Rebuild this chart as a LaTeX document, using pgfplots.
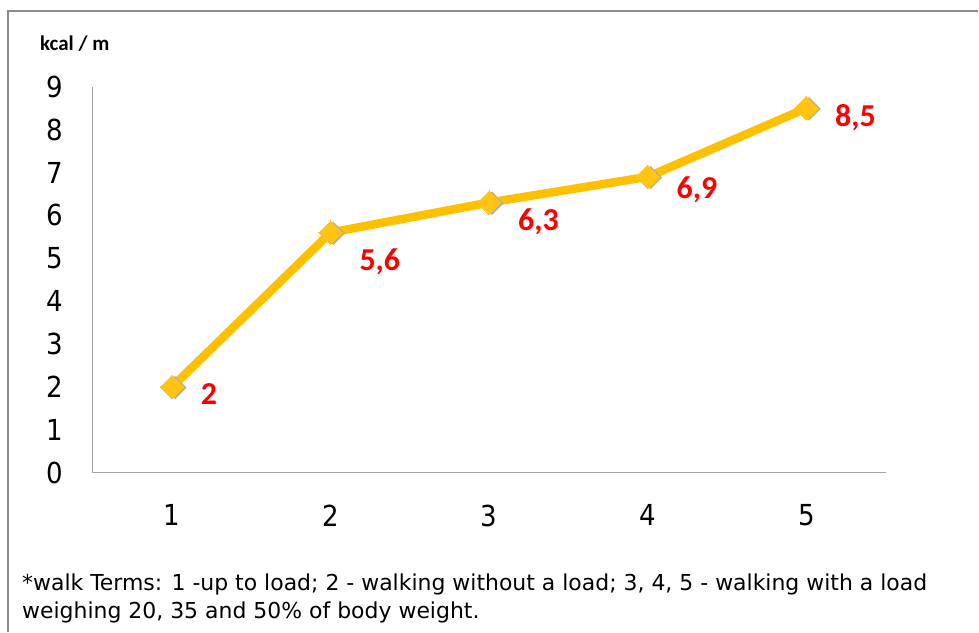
\documentclass[border=0pt]{standalone}
\usepackage{fontspec}
\setmainfont{Carlito}
\newfontfamily\tahoma{DejaVu Sans Condensed}
\newfontfamily\verdana{DejaVu Sans}
\usepackage{pgfplots}
\pgfplotsset{compat=1.18}
\usepackage{pgfplotstable}
\definecolor{gold}{HTML}{FFC000}
\definecolor{goldmark}{HTML}{FFC414}
\definecolor{shadowc}{HTML}{B8B0A0}
\definecolor{axgray}{HTML}{A6A6A6}
\definecolor{framegray}{HTML}{8C8C8C}
\pgfplotstableread{
x y dy
1 2 -7
2 5.6 -29
3 6.3 -19
4 6.9 -13
5 8.5 -9
}\data
\begin{document}
\begin{tikzpicture}[x=1pt,y=1pt]
\path[fill=white] (0,0) rectangle (979,632);
\draw[framegray, line width=1.3pt] (8,-2) -- (8,621) -- (981,621);
\node[anchor=west, inner sep=0pt, font=\bfseries\fontsize{21}{21}\selectfont] at (40,588) {kcal / m};
\begin{axis}[
  at={(93pt,158pt)}, anchor=south west,
  x=159pt, y=43pt,
  xmin=0.5, xmax=5.5, ymin=0, ymax=9,
  axis lines*=left,
  axis line style={axgray, line width=1.2pt},
  major tick length=0pt,
  xtick={1,2,3,4,5}, ytick={0,1,...,9},
  /pgf/number format/assume math mode=true,
  ticklabel style={font=\tahoma\fontsize{29}{29}\selectfont, inner sep=0pt},
  yticklabel style={anchor=east, xshift=-30pt},
  xticklabel style={anchor=north, yshift=-32pt},
  clip=false,
]
\addplot[gold, line width=8.5pt] table[x=x,y=y] {\data};
\addplot[shadowc, only marks, mark=square*, mark size=8.0pt, mark options={rotate=45, fill=shadowc, draw=shadowc, xshift=1.5pt, yshift=-2.5pt}] table[x=x,y=y] {\data};
\addplot[goldmark, only marks, mark=square*, mark size=8.3pt, mark options={rotate=45, fill=goldmark, draw=goldmark, line width=0pt},
  visualization depends on={\thisrow{dy} \as \dy},
  point meta=y,
  nodes near coords={\pgfmathprintnumber[fixed, use comma, precision=1]{\pgfplotspointmeta}},
  every node near coord/.append style={anchor=west, inner sep=0pt, xshift=29pt, yshift=\dy pt, text=red, font=\bfseries\fontsize{32}{32}\selectfont},
] table[x=x,y=y] {\data};
\end{axis}
\node[anchor=base west, inner sep=0pt, font=\verdana\fontsize{22}{22}\selectfont] at (22,40) {*walk Terms: 1 -up to load; 2 - walking without a load; 3, 4, 5 - walking with a load};
\node[anchor=base west, inner sep=0pt, font=\verdana\fontsize{22}{22}\selectfont] at (22,12) {weighing 20, 35 and 50\% of body weight.};
\end{tikzpicture}
\end{document}
